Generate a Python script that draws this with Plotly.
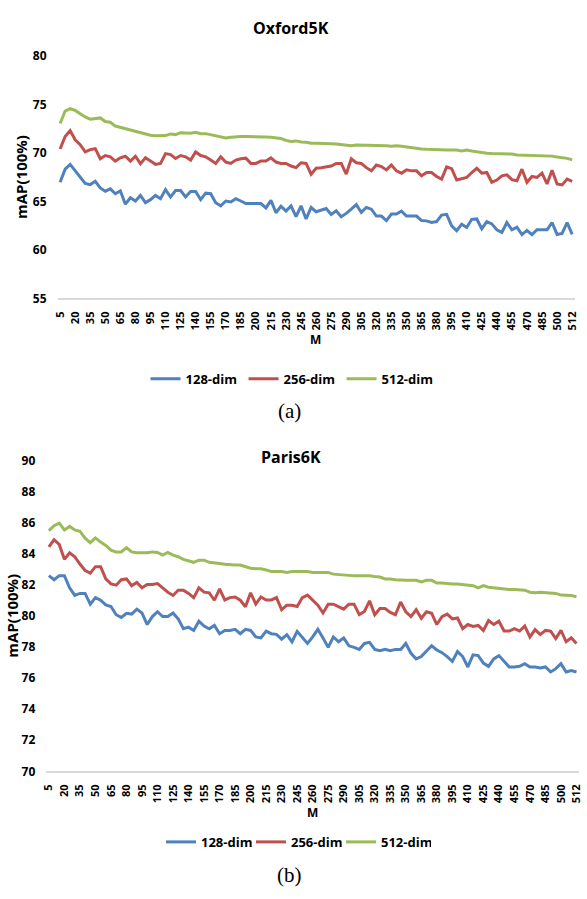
import plotly.graph_objects as go

# ---------------- data ----------------
M = [str(v) for v in list(range(5, 511, 5)) + [512]]
TICK_LABELS = ["5", "20", "35", "50", "65", "80", "95", "110", "125", "140", "155", "170",
               "185", "200", "215", "230", "245", "260", "275", "290", "305", "320", "335",
               "350", "365", "380", "395", "410", "425", "440", "455", "470", "485", "500", "512"]
SERIES_NAMES = ["128-dim", "256-dim", "512-dim"]

oxford_128 = [66.98, 68.33, 68.83, 68.16, 67.58, 66.87, 66.74, 67.08, 66.4, 66.06,
              66.3, 65.8, 66.1, 64.72, 65.39, 65.05, 65.63, 64.88, 65.19, 65.63,
              65.29, 66.23, 65.46, 66.13, 66.13, 65.46, 66.03, 66.03, 65.19, 65.86,
              65.8, 64.88, 64.55, 65.05, 64.95, 65.29, 65.05, 64.78, 64.78, 64.78,
              64.78, 64.34, 65.12, 63.84, 64.51, 64.01, 64.55, 63.43, 64.55, 63.2,
              64.38, 63.94, 64.11, 64.28, 63.67, 64.04, 63.43, 63.77, 64.21, 64.68,
              63.87, 64.38, 64.21, 63.5, 63.5, 63.03, 63.7, 63.7, 64.01, 63.5,
              63.5, 63.5, 63.03, 63.0, 62.83, 62.93, 63.6, 63.67, 62.49, 61.98,
              62.66, 62.32, 63.16, 63.2, 62.19, 62.93, 62.69, 62.08, 61.81, 62.83,
              62.08, 62.35, 61.58, 62.02, 61.58, 62.08, 62.08, 62.08, 62.83, 61.6,
              61.7, 62.83, 61.6]
oxford_256 = [70.42, 71.7, 72.31, 71.36, 70.86, 70.11, 70.35, 70.45, 69.41, 69.74,
              69.61, 69.17, 69.51, 69.67, 69.17, 69.67, 68.9, 69.51, 69.17, 68.83,
              68.93, 69.94, 69.84, 69.44, 69.74, 69.61, 69.27, 70.11, 69.74, 69.61,
              69.27, 68.93, 69.61, 69.07, 68.93, 69.27, 69.41, 69.47, 68.93, 68.93,
              69.17, 69.17, 69.51, 69.07, 68.93, 68.93, 68.66, 68.49, 69.0, 68.93,
              67.82, 68.43, 68.49, 68.6, 68.66, 68.93, 68.93, 67.82, 69.41, 69.0,
              68.93, 68.49, 68.16, 68.76, 68.6, 68.26, 68.76, 68.16, 67.92, 68.26,
              68.16, 68.16, 67.65, 67.99, 67.99, 67.58, 67.31, 68.56, 68.39, 67.21,
              67.31, 67.48, 67.99, 68.43, 67.92, 67.99, 66.98, 67.21, 67.65, 67.75,
              67.25, 67.14, 68.33, 66.98, 67.58, 67.48, 67.92, 66.81, 68.22, 66.81,
              66.71, 67.31, 67.08]
oxford_512 = [73.05, 74.33, 74.57, 74.4, 74.06, 73.72, 73.49, 73.52, 73.62, 73.25,
              73.18, 72.78, 72.64, 72.54, 72.37, 72.24, 72.14, 72.0, 71.83, 71.77,
              71.77, 71.8, 71.97, 71.9, 72.1, 72.1, 72.04, 72.14, 72.0, 72.0,
              71.9, 71.8, 71.67, 71.56, 71.63, 71.7, 71.7, 71.7, 71.67, 71.65,
              71.65, 71.65, 71.63, 71.6, 71.5, 71.3, 71.2, 71.25, 71.13, 71.1,
              71.02, 71.02, 71.02, 71.0, 70.96, 70.92, 70.88, 70.82, 70.75, 70.82,
              70.82, 70.82, 70.82, 70.82, 70.82, 70.75, 70.69, 70.75, 70.7, 70.62,
              70.52, 70.45, 70.42, 70.38, 70.35, 70.3, 70.3, 70.3, 70.3, 70.3,
              70.22, 70.3, 70.2, 70.11, 70.05, 69.98, 69.95, 69.95, 69.95, 69.95,
              69.9, 69.8, 69.78, 69.78, 69.78, 69.78, 69.7, 69.68, 69.68, 69.6,
              69.55, 69.45, 69.3]

paris_128 = [82.58, 82.32, 82.58, 82.58, 81.8, 81.31, 81.44, 81.44, 80.75, 81.17,
             81.0, 80.7, 80.6, 80.07, 79.9, 80.16, 80.11, 80.43, 80.18, 79.44,
             79.95, 80.26, 79.95, 79.95, 80.18, 79.8, 79.17, 79.27, 79.06, 79.65,
             79.34, 79.17, 79.38, 78.85, 79.06, 79.06, 79.13, 78.85, 79.13, 79.06,
             78.64, 78.58, 79.02, 78.85, 78.81, 78.5, 78.79, 78.33, 79.0, 78.64,
             78.22, 78.64, 79.13, 78.58, 77.97, 78.64, 78.33, 78.58, 78.07, 77.97,
             77.84, 78.22, 78.29, 77.84, 77.76, 77.84, 77.76, 77.84, 77.84, 78.22,
             77.59, 77.23, 77.38, 77.74, 78.07, 77.8, 77.63, 77.38, 77.07, 77.7,
             77.38, 76.71, 77.49, 77.44, 76.96, 76.75, 77.23, 77.44, 77.07, 76.71,
             76.71, 76.75, 76.92, 76.71, 76.71, 76.64, 76.71, 76.39, 76.6, 76.92,
             76.39, 76.48, 76.39]
paris_256 = [84.43, 84.89, 84.59, 83.63, 84.05, 83.8, 83.33, 82.91, 82.74, 83.16,
             83.16, 82.37, 82.05, 81.97, 82.32, 82.37, 81.94, 82.15, 81.8, 82.01,
             82.01, 82.07, 81.8, 81.52, 81.31, 81.65, 81.65, 81.44, 81.17, 81.8,
             81.52, 81.48, 81.0, 81.73, 81.02, 81.17, 81.21, 81.0, 80.58, 81.48,
             80.75, 81.21, 81.02, 81.02, 81.17, 80.39, 80.68, 80.68, 80.6, 81.17,
             81.33, 81.0, 80.68, 80.18, 80.75, 80.75, 80.6, 80.43, 80.75, 80.75,
             80.07, 80.28, 80.96, 80.07, 80.47, 80.47, 80.22, 80.07, 80.89, 80.26,
             79.95, 80.39, 79.84, 80.26, 80.16, 79.44, 79.95, 80.11, 79.8, 79.86,
             79.17, 79.44, 79.32, 79.38, 79.06, 79.69, 79.44, 79.65, 79.02, 79.02,
             79.17, 79.02, 79.34, 78.64, 79.11, 78.79, 79.06, 79.02, 78.54, 79.06,
             78.33, 78.58, 78.22]
paris_512 = [85.48, 85.79, 85.96, 85.52, 85.75, 85.52, 85.44, 84.99, 84.7, 85.01,
             84.74, 84.53, 84.22, 84.11, 84.11, 84.38, 84.11, 84.05, 84.05, 84.05,
             84.11, 84.07, 83.9, 84.07, 83.9, 83.8, 83.63, 83.54, 83.44, 83.58,
             83.58, 83.44, 83.42, 83.37, 83.31, 83.27, 83.27, 83.27, 83.16, 83.06,
             83.02, 83.02, 82.95, 82.85, 82.85, 82.85, 82.79, 82.85, 82.85, 82.85,
             82.85, 82.79, 82.79, 82.79, 82.79, 82.68, 82.64, 82.64, 82.6, 82.58,
             82.58, 82.58, 82.58, 82.53, 82.49, 82.37, 82.37, 82.32, 82.28, 82.28,
             82.28, 82.28, 82.18, 82.28, 82.28, 82.11, 82.11, 82.07, 82.05, 82.05,
             82.01, 82.01, 81.94, 81.8, 81.94, 81.84, 81.8, 81.76, 81.73, 81.69,
             81.69, 81.69, 81.65, 81.52, 81.48, 81.52, 81.48, 81.48, 81.44, 81.33,
             81.33, 81.3, 81.23]

COLORS = ["#4F81BD", "#C0504D", "#9BBB59"]

# ---------------- figure ----------------
FONT = "Open Sans"
W, H = 587, 899

fig = go.Figure()
for name, ys, c in zip(SERIES_NAMES, [oxford_128, oxford_256, oxford_512], COLORS):
    fig.add_trace(go.Scatter(x=M, y=ys, mode="lines", name=name, line=dict(color=c, width=3),
                             xaxis="x", yaxis="y", legend="legend"))
for name, ys, c in zip(SERIES_NAMES, [paris_128, paris_256, paris_512], COLORS):
    fig.add_trace(go.Scatter(x=M, y=ys, mode="lines", name=name, line=dict(color=c, width=3),
                             xaxis="x2", yaxis="y2", legend="legend2"))

def px_x(p):
    return p / W

def px_y(p):
    return (H - p) / H

xcommon = dict(type="category", categoryorder="array", categoryarray=M,
               range=[-0.5, len(M) - 0.5], tickmode="array", tickvals=TICK_LABELS,
               ticktext=TICK_LABELS, tickangle=-90, showgrid=False, zeroline=False,
               showline=True, linecolor="#D9D9D9", linewidth=1.5, ticks="",
               tickfont=dict(family=FONT, size=11, color="#000", weight="bold"),
               ticklabelstandoff=7, ticklabeloverflow="allow", fixedrange=True)
ycommon = dict(showgrid=False, zeroline=False, showline=False, ticks="",
               tickfont=dict(family=FONT, size=12, color="#000", weight="bold"),
               ticklabelstandoff=10, fixedrange=True)

fig.update_layout(
    width=W, height=H, margin=dict(l=0, r=0, t=0, b=0),
    paper_bgcolor="white", plot_bgcolor="white",
    xaxis=dict(domain=[px_x(52.5), px_x(578.5)], anchor="y", **xcommon),
    yaxis=dict(domain=[px_y(295), px_y(48)], anchor="x", range=[55, 80], dtick=5, **ycommon),
    xaxis2=dict(domain=[px_x(41), px_x(583)], anchor="y2", **xcommon),
    yaxis2=dict(domain=[px_y(777), px_y(460)], anchor="x2", range=[70, 90], dtick=2, **ycommon),
    legend=dict(orientation="h", x=px_x(291.5), xanchor="center", y=px_y(377), yanchor="middle",
                font=dict(family=FONT, size=13, color="#000", weight="bold"),
                bgcolor="rgba(0,0,0,0)", itemwidth=30, entrywidth=53, traceorder="normal"),
    legend2=dict(orientation="h", x=px_x(295), xanchor="center", y=px_y(849), yanchor="middle",
                 font=dict(family=FONT, size=13, color="#000", weight="bold"),
                 bgcolor="rgba(0,0,0,0)", itemwidth=30, entrywidth=45, traceorder="normal"),
    showlegend=True,
)

ann = []
bold = dict(family=FONT, color="#000", weight="bold")
ann.append(dict(text="Oxford5K", x=px_x(290), y=px_y(19), font=dict(size=16, **bold)))
ann.append(dict(text="Paris6K", x=px_x(290), y=px_y(457), font=dict(size=16, **bold)))
ann.append(dict(text="mAP(100%)", x=px_x(16), y=px_y(171.5), textangle=-90, font=dict(size=15, **bold)))
ann.append(dict(text="mAP(100%)", x=px_x(6), y=px_y(618.5), textangle=-90, font=dict(size=15, **bold)))
ann.append(dict(text="M", x=px_x(315), y=px_y(337), font=dict(size=12, **bold)))
ann.append(dict(text="M", x=px_x(312), y=px_y(819), font=dict(size=12, **bold)))
ann.append(dict(text="(a)", x=px_x(288), y=px_y(410), font=dict(family="Liberation Serif", size=21, color="#000")))
ann.append(dict(text="(b)", x=px_x(288), y=px_y(883), font=dict(family="Liberation Serif", size=21, color="#000")))
for a in ann:
    a.update(xref="paper", yref="paper", xanchor="center", yanchor="middle", showarrow=False)
fig.update_layout(annotations=ann)

fig.write_html("out.html", config={"displayModeBar": False},
               post_script="document.body.style.margin='0';document.body.style.overflow='hidden';")
